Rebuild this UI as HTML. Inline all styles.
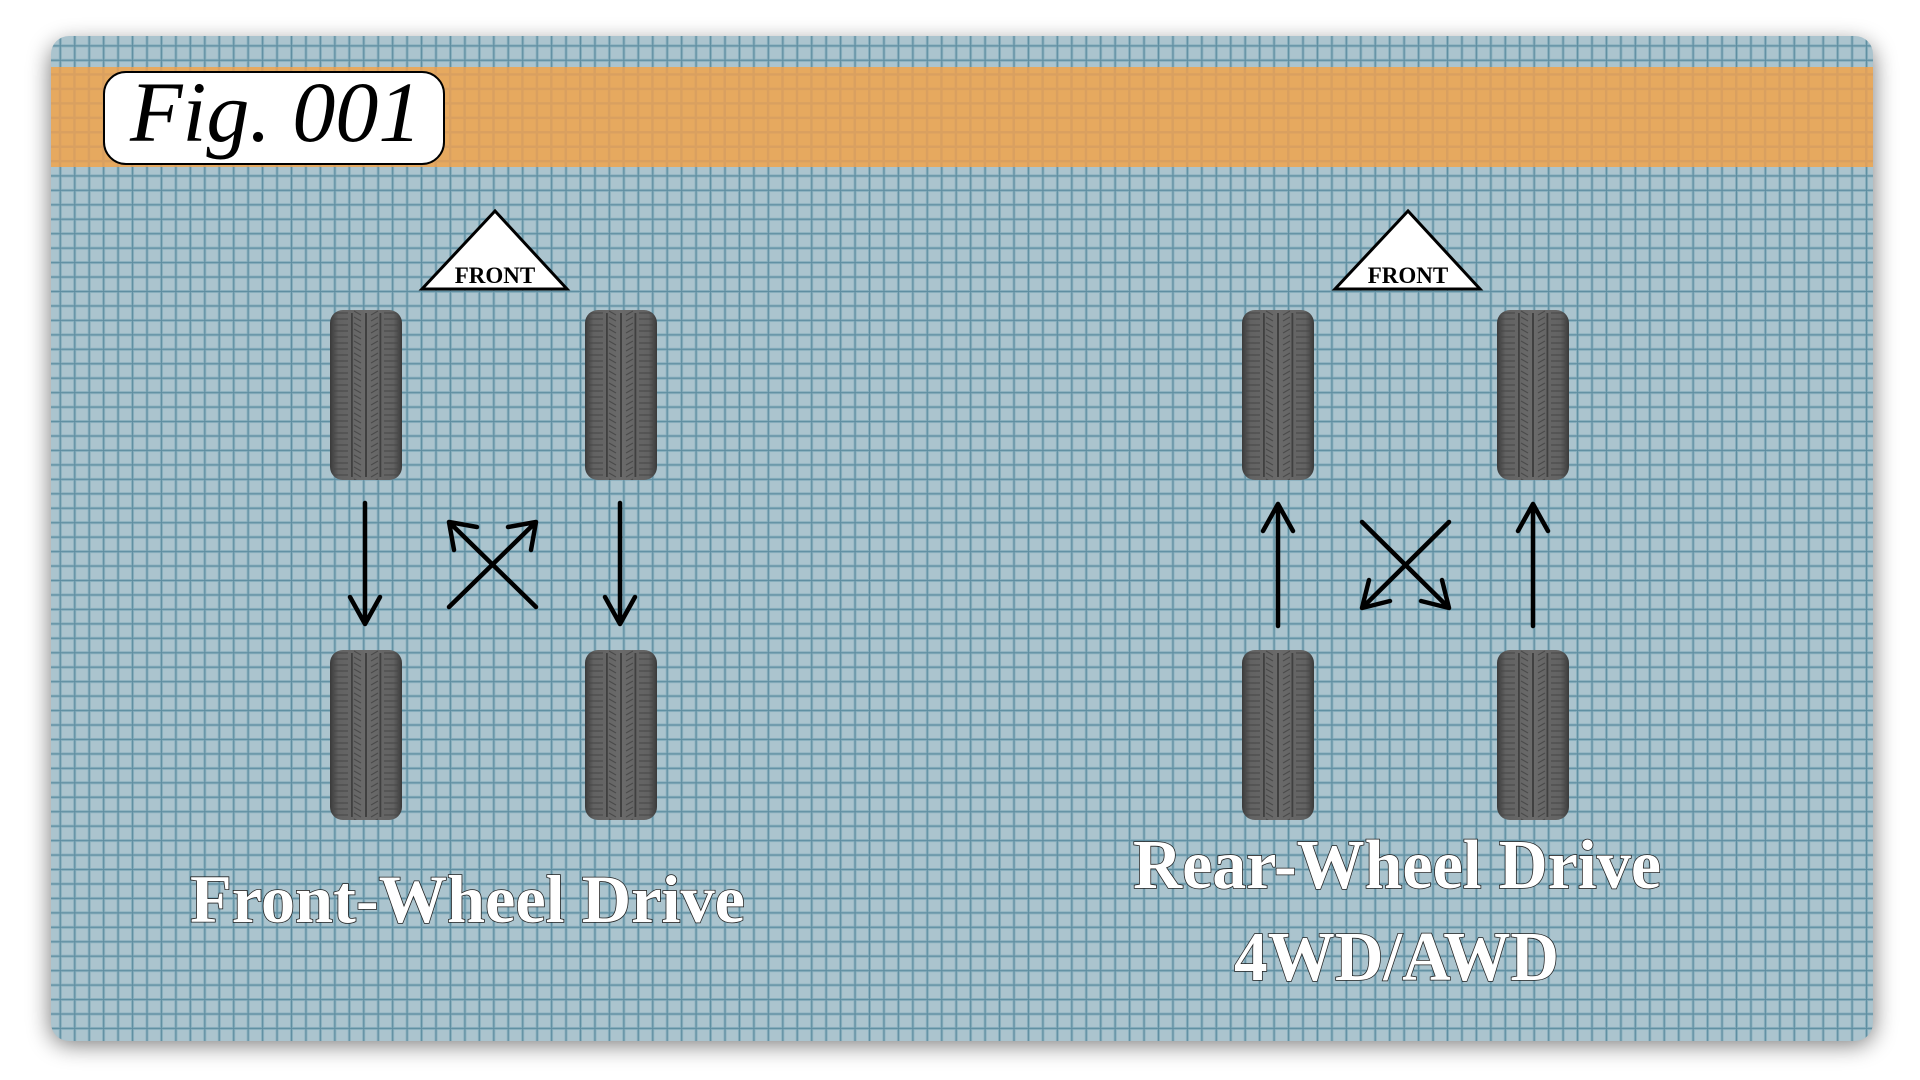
<!DOCTYPE html>
<html><head><meta charset="utf-8">
<style>
html,body{margin:0;padding:0;width:1920px;height:1080px;overflow:hidden;background:#fff;}
svg{display:block}
</style></head>
<body>
<svg width="1920" height="1080" viewBox="0 0 1920 1080" xmlns="http://www.w3.org/2000/svg">
<defs>
  <pattern id="grid" x="1" y="1" width="14.45" height="14.45" patternUnits="userSpaceOnUse">
    <rect width="14.45" height="14.45" fill="#abc4ce"/>
    <rect x="0" y="0" width="14.45" height="3" fill="#8db2c0"/>
    <rect x="0" y="0" width="3" height="14.45" fill="#8db2c0"/>
    <rect x="0" y="0.9" width="14.45" height="1.2" fill="#5f8ea1"/>
    <rect x="0.9" y="0" width="1.2" height="14.45" fill="#5f8ea1"/>
  </pattern>
  <pattern id="gridO" x="1" y="1" width="14.45" height="14.45" patternUnits="userSpaceOnUse">
    <rect width="14.45" height="14.45" fill="#e6a95f"/>
    <rect x="0" y="0" width="14.45" height="2.4" fill="#d9a060"/>
    <rect x="0" y="0" width="2.4" height="14.45" fill="#d9a060"/>
  </pattern>
  <filter id="sh" x="-5%" y="-5%" width="110%" height="115%">
    <feGaussianBlur stdDeviation="12"/>
  </filter>
  <linearGradient id="tg" x1="0" x2="1" y1="0" y2="0">
    <stop offset="0" stop-color="#3a3a3a"/>
    <stop offset="0.12" stop-color="#626262"/>
    <stop offset="0.5" stop-color="#6a6a6a"/>
    <stop offset="0.88" stop-color="#626262"/>
    <stop offset="1" stop-color="#3a3a3a"/>
  </linearGradient>
  <pattern id="tread" width="72" height="6" patternUnits="userSpaceOnUse">
    <path d="M4 3 H18 M54 3 H68" stroke="#464646" stroke-width="1.1"/>
    <path d="M24 1 L31 5 M41 5 L48 1" stroke="#4a4a4a" stroke-width="1.1"/>
  </pattern>
  <g id="tire">
    <rect x="0" y="0" width="72" height="170" rx="13" fill="url(#tg)"/>
    <rect x="0" y="0" width="72" height="170" rx="13" fill="url(#tread)"/>
    <rect x="21" y="3" width="1.8" height="164" fill="#404040"/>
    <rect x="35" y="3" width="2" height="164" fill="#404040"/>
    <rect x="49.5" y="3" width="1.8" height="164" fill="#404040"/>
  </g>
</defs>

<rect x="51" y="44" width="1822" height="1000" rx="18" fill="#000" opacity="0.55" filter="url(#sh)"/>
<rect x="51" y="36" width="1822" height="1005" rx="18" fill="url(#grid)"/>
<rect x="51" y="67" width="1822" height="100" fill="url(#gridO)"/>

<rect x="104" y="72" width="340" height="92" rx="22" fill="#fff" stroke="#000" stroke-width="2"/>
<text x="130" y="141" font-family="Liberation Serif, serif" font-style="italic" font-size="86" fill="#000">Fig. 001</text>

<polygon points="495,211 422,289 567,289" fill="#fff" stroke="#000" stroke-width="3"/>
<text x="495" y="283" text-anchor="middle" font-family="Liberation Serif, serif" font-weight="bold" font-size="23" fill="#000">FRONT</text>
<polygon points="1408,211 1335,289 1480,289" fill="#fff" stroke="#000" stroke-width="3"/>
<text x="1408" y="283" text-anchor="middle" font-family="Liberation Serif, serif" font-weight="bold" font-size="23" fill="#000">FRONT</text>

<use href="#tire" x="330" y="310"/>
<use href="#tire" x="585" y="310"/>
<use href="#tire" x="330" y="650"/>
<use href="#tire" x="585" y="650"/>
<use href="#tire" x="1242" y="310"/>
<use href="#tire" x="1497" y="310"/>
<use href="#tire" x="1242" y="650"/>
<use href="#tire" x="1497" y="650"/>

<g stroke="#000" stroke-width="4.5" fill="none" stroke-linecap="round" stroke-linejoin="round">
  <path d="M365 503 V624 M350 597 L365 624 L380 597"/>
  <path d="M620 503 V624 M605 597 L620 624 L635 597"/>
  <path d="M449 607 L536 522 M508 527 L536 522 L531 550"/>
  <path d="M536 607 L449 522 M477 527 L449 522 L454 550"/>
  <path d="M1278 626 V504 M1263 531 L1278 504 L1293 531"/>
  <path d="M1533 626 V504 M1518 531 L1533 504 L1548 531"/>
  <path d="M1449 522 L1362 608 M1390 601 L1362 608 L1369 580"/>
  <path d="M1362 522 L1449 608 M1421 601 L1449 608 L1442 580"/>
</g>

<g font-family="Liberation Serif, serif" font-weight="bold" fill="#fff" stroke="#222" stroke-width="1.6" paint-order="stroke">
  <text x="190" y="922" font-size="68" textLength="555" lengthAdjust="spacingAndGlyphs">Front-Wheel Drive</text>
  <text x="1133" y="888" font-size="70" textLength="528" lengthAdjust="spacingAndGlyphs">Rear-Wheel Drive</text>
  <text x="1234" y="980" font-size="70" textLength="325" lengthAdjust="spacingAndGlyphs">4WD/AWD</text>
</g>
</svg>
</body></html>
